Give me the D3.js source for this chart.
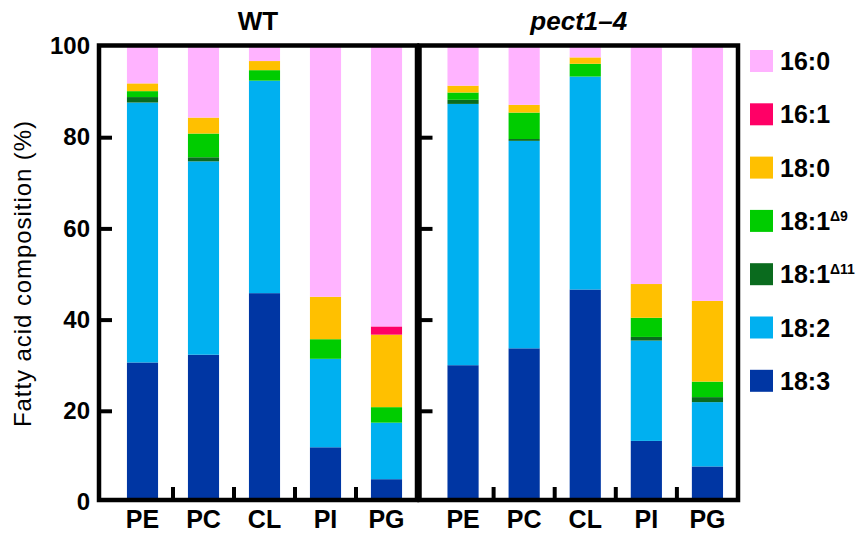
<!DOCTYPE html>
<html>
<head>
<meta charset="utf-8">
<script src="https://cdn.jsdelivr.net/npm/d3@7"></script>
<style>
  body { margin: 0; background: #fff; }
  svg text { font-family: "Liberation Sans", Arial, Helvetica, sans-serif; fill: #000; }
</style>
</head>
<body>
<svg id="chart" width="868" height="535"></svg>
<script>
// categories and series
const lipids = ["PE", "PC", "CL", "PI", "PG"];
const acids = ["16:0", "16:1", "18:0", "18:1d9", "18:1d11", "18:2", "18:3"];
const acidColors = ["#ffb3ff", "#ff0066", "#ffc000", "#00cc00", "#0a6b1e", "#00b0f0", "#0036a3"];
const yTicks = [0, 20, 40, 60, 80, 100];

// WT values (%), per fatty acid, in lipid order
const wt160 = [8.2, 15.7, 3.3, 55.0, 61.5];
const wt161 = [0, 0, 0, 0, 1.8];
const wt180 = [1.7, 3.5, 2.0, 9.3, 15.9];
const wt181d9 = [1.3, 5.2, 2.3, 4.3, 3.4];
const wt181d11 = [1.2, 0.9, 0, 0, 0];
const wt182 = [57.0, 42.4, 46.6, 19.4, 12.4];
const wt183 = [30.6, 32.3, 45.8, 12.0, 5.0];

// pect1-4 values (%)
const mu160 = [8.7, 12.9, 2.5, 52.2, 55.9];
const mu161 = [0, 0, 0, 0, 0];
const mu180 = [1.5, 1.7, 1.4, 7.4, 17.7];
const mu181d9 = [1.6, 5.8, 2.8, 4.2, 3.4];
const mu181d11 = [0.9, 0.4, 0, 0.8, 1.1];
const mu182 = [57.3, 45.5, 46.7, 22.0, 14.1];
const mu183 = [30.0, 33.7, 46.6, 13.4, 7.8];

function toRows(series) {
  return lipids.map((l, i) => {
    let row = { lipid: l };
    acids.forEach((a, j) => row[a] = series[j][i]);
    return row;
  });
}

const panels = [
  { title: "WT", italic: false, left: 99, right: 417, rows: toRows([wt160, wt161, wt180, wt181d9, wt181d11, wt182, wt183]) },
  { title: "pect1\u20134", italic: true, left: 419.5, right: 738, rows: toRows([mu160, mu161, mu180, mu181d9, mu181d11, mu182, mu183]) }
];

const svg = d3.select("#chart");
const plotTop = 45.5, plotBottom = 500;

const y = d3.scaleLinear().domain([0, 100]).range([502, 46]);
const color = d3.scaleOrdinal().domain(acids).range(acidColors);

// stack bottom-up: 18:3 first, 16:0 last
const stack = d3.stack().keys(acids.slice().reverse());

panels.forEach((p, pi) => {
  const g = svg.append("g");
  const x = d3.scaleBand().domain(lipids).range([p.left + 13, p.right]).padding(0);
  const bw = x.bandwidth() * 0.51;

  const layers = stack(p.rows);
  g.selectAll("g.layer")
    .data(layers)
    .join("g")
    .attr("class", "layer")
    .attr("fill", d => color(d.key))
    .selectAll("rect")
    .data(d => d)
    .join("rect")
      .attr("x", d => x(d.data.lipid) + (x.bandwidth() - bw) / 2)
      .attr("width", bw)
      .attr("y", d => y(d[1]))
      .attr("height", d => Math.max(0, y(d[0]) - y(d[1])));

  // frame
  g.append("rect")
    .attr("x", p.left).attr("y", plotTop)
    .attr("width", p.right - p.left).attr("height", plotBottom - plotTop)
    .attr("fill", "none").attr("stroke", "#000").attr("stroke-width", 4.5);

  // y ticks (inward)
  const yAxis = d3.axisLeft(y).tickValues(yTicks).tickSize(-13).tickPadding(9);
  const ya = g.append("g").attr("transform", `translate(${p.left},0)`).call(yAxis);
  ya.select(".domain").remove();
  ya.selectAll(".tick line").attr("stroke", "#000").attr("stroke-width", 4)
    .filter(d => d === 0 || d === 100).remove();
  ya.selectAll(".tick text")
    .style("font-size", "24px").style("font-weight", "bold")
    .attr("opacity", pi === 0 ? 1 : 0);

  // x boundary ticks (inward, between categories)
  g.selectAll("line.xtick")
    .data(lipids.slice(1))
    .join("line")
    .attr("class", "xtick")
    .attr("x1", d => x(d)).attr("x2", d => x(d))
    .attr("y1", plotBottom).attr("y2", plotBottom - 13)
    .attr("stroke", "#000").attr("stroke-width", 4);

  // x labels
  const xa = g.append("g").attr("transform", `translate(0,${plotBottom})`)
    .call(d3.axisBottom(x).tickSize(0).tickPadding(10));
  xa.select(".domain").remove();
  xa.selectAll(".tick text").style("font-size", "25px").style("font-weight", "bold");

  // title
  g.append("text")
    .attr("x", (p.left + p.right) / 2).attr("y", 30)
    .attr("text-anchor", "middle")
    .style("font-size", "26px").style("font-weight", "bold")
    .style("font-style", p.italic ? "italic" : "normal")
    .text(p.title);
});

// y axis title
svg.append("text")
  .attr("transform", "translate(31,274) rotate(-90)")
  .attr("text-anchor", "middle")
  .attr("textLength", 306)
  .style("font-size", "24px")
  .text("Fatty acid composition (%)");

// legend
const legendLabels = [
  { main: "16:0", sup: "" },
  { main: "16:1", sup: "" },
  { main: "18:0", sup: "" },
  { main: "18:1", sup: "\u03949" },
  { main: "18:1", sup: "\u039411" },
  { main: "18:2", sup: "" },
  { main: "18:3", sup: "" }
];
const legend = svg.append("g");
const item = legend.selectAll("g")
  .data(acids)
  .join("g")
  .attr("transform", (d, i) => `translate(750,${50 + i * 53.3})`);
item.append("rect")
  .attr("width", 23).attr("height", 22)
  .attr("fill", d => color(d));
const lt = item.append("text")
  .attr("x", 30).attr("y", 20)
  .style("font-size", "25px").style("font-weight", "bold");
lt.append("tspan").text((d, i) => legendLabels[i].main);
lt.append("tspan")
  .attr("dy", -9)
  .style("font-size", "14px")
  .text((d, i) => legendLabels[i].sup);
</script>
</body>
</html>
